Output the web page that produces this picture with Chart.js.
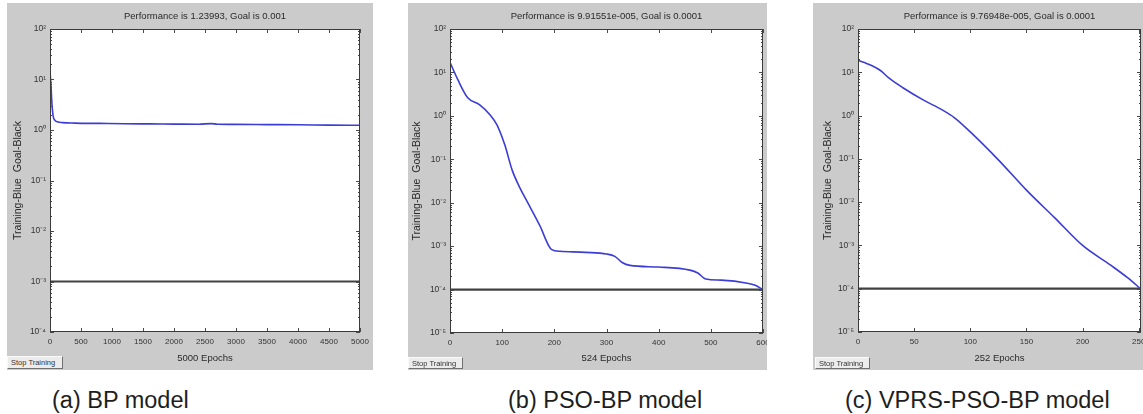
<!DOCTYPE html>
<html>
<head>
<meta charset="utf-8">
<script src="https://cdn.jsdelivr.net/npm/chart.js@4.4.0/dist/chart.umd.min.js"></script>
<style>
body { margin: 0; background: #fff; width: 1143px; height: 414px; position: relative; overflow: hidden; font-family: "Liberation Sans", Arial, sans-serif; }
.panel { position: absolute; background: #cbcbcb; }
.panel canvas { display: block; }
.btn { position: absolute; box-sizing: border-box; background: #ececec; border: 1px solid; border-color: #fafafa #707070 #707070 #fafafa; font-size: 7.5px; color: #333; line-height: 11px; padding-left: 3px; white-space: nowrap; }
.cap { position: absolute; top: 387px; font-size: 23.5px; color: #1e1e1e; white-space: nowrap; }
</style>
</head>
<body>
<div class="panel" style="left:7px;top:3px;width:366px;height:367px"><canvas id="chartA" width="366" height="367"></canvas></div>
<div class="panel" style="left:408px;top:3px;width:359px;height:367px"><canvas id="chartB" width="359" height="367"></canvas></div>
<div class="panel" style="left:813px;top:3px;width:330px;height:367px"><canvas id="chartC" width="330" height="367"></canvas></div>

<div class="btn" style="left:7px;top:356px;width:56px;height:13px">Stop Training</div>
<div class="btn" style="left:408px;top:357px;width:55px;height:12px">Stop Training</div>
<div class="btn" style="left:815px;top:357px;width:55px;height:12px">Stop Training</div>

<div class="cap" style="left:52px">(a) BP model</div>
<div class="cap" style="left:508px">(b) PSO-BP model</div>
<div class="cap" style="left:845px">(c) VPRS-PSO-BP model</div>

<script>
// (a) BP
const epochsA = [0, 15, 30, 50, 80, 120, 200, 400, 800, 1200, 1600, 2000, 2400, 2600, 2700, 3000, 3500, 4000, 4500, 5000];
const perfA = [14, 8, 3.5, 1.9, 1.55, 1.45, 1.4, 1.37, 1.35, 1.33, 1.32, 1.31, 1.3, 1.34, 1.3, 1.29, 1.28, 1.27, 1.25, 1.24];
const xTicksA = [0, 500, 1000, 1500, 2000, 2500, 3000, 3500, 4000, 4500, 5000];
const yExpA = [-4, -3, -2, -1, 0, 1, 2];

// (b) PSO-BP
const epochsB = [0, 15, 34, 57, 77, 90, 105, 119, 134, 149, 172, 195, 211, 260, 300, 316, 330, 345, 400, 460, 475, 490, 520, 570, 585, 600];
const perfB = [17, 6.8, 2.6, 1.8, 1.05, 0.62, 0.215, 0.057, 0.022, 0.01, 0.003, 8.3e-4, 7.6e-4, 7.2e-4, 6.6e-4, 5.8e-4, 4.2e-4, 3.6e-4, 3.3e-4, 2.8e-4, 2.4e-4, 1.75e-4, 1.65e-4, 1.4e-4, 1.25e-4, 9.92e-5];
const xTicksB = [0, 100, 200, 300, 400, 500, 600];
const yExpB = [-5, -4, -3, -2, -1, 0, 1, 2];

// (c) VPRS-PSO-BP
const epochsC = [0, 5, 13, 20, 28, 40, 58, 75, 86, 100, 125, 150, 175, 200, 225, 240, 252];
const perfC = [19, 17, 14, 11, 7.2, 4.4, 2.3, 1.35, 0.89, 0.42, 0.095, 0.019, 0.0044, 0.001, 3.5e-4, 1.8e-4, 9.77e-5];
const xTicksC = [0, 50, 100, 150, 200, 250];
const yExpC = [-5, -4, -3, -2, -1, 0, 1, 2];

const FONT = '"Liberation Sans", Arial, sans-serif';
const SUP = {'-': '\u207B', '0': '\u2070', '1': '\u00B9', '2': '\u00B2', '3': '\u00B3', '4': '\u2074', '5': '\u2075'};
function sup(n) { return String(n).split('').map(c => SUP[c]).join(''); }

// matlab style box: white axes, inward ticks, title over the axes
const frame = {
    id: 'frame',
    beforeDraw(chart) {
        const { ctx, chartArea: a } = chart;
        ctx.save();
        ctx.fillStyle = '#fff';
        ctx.fillRect(a.left, a.top, a.right - a.left, a.bottom - a.top);
        ctx.restore();
    },
    afterDraw(chart, args, opts) {
        const { ctx, chartArea: a, scales } = chart;
        ctx.save();
        ctx.strokeStyle = '#4a4a4a';
        ctx.lineWidth = 1;
        ctx.beginPath();
        scales.x.ticks.forEach(t => {
            const px = Math.round(scales.x.getPixelForValue(t.value)) + 0.5;
            ctx.moveTo(px, a.bottom); ctx.lineTo(px, a.bottom - 4);
            ctx.moveTo(px, a.top); ctx.lineTo(px, a.top + 4);
        });
        scales.y.ticks.forEach(t => {
            const py = Math.round(scales.y.getPixelForValue(t.value)) + 0.5;
            ctx.moveTo(a.left, py); ctx.lineTo(a.left + 4, py);
            ctx.moveTo(a.right, py); ctx.lineTo(a.right - 4, py);
            for (let k = 2; k < 10; k++) {
                const v = t.value * k;
                if (v >= scales.y.max) break;
                const pm = Math.round(scales.y.getPixelForValue(v)) + 0.5;
                ctx.moveTo(a.left, pm); ctx.lineTo(a.left + 2, pm);
                ctx.moveTo(a.right, pm); ctx.lineTo(a.right - 2, pm);
            }
        });
        ctx.stroke();
        ctx.strokeStyle = '#3a3a3a';
        ctx.strokeRect(a.left + 0.5, a.top + 0.5, a.right - a.left - 1, a.bottom - a.top - 1);

        ctx.fillStyle = '#2a2a2a';
        ctx.font = '9.5px ' + FONT;
        ctx.textAlign = 'center';
        ctx.textBaseline = 'middle';
        ctx.fillText(opts.title, (a.left + a.right) / 2, a.top - 13);
        ctx.restore();
    }
};

function makeChart(id, p) {
    return new Chart(document.getElementById(id), {
        type: 'line',
        data: {
            datasets: [
                {
                    data: p.epochs.map((e, i) => ({ x: e, y: p.perf[i] })),
                    borderColor: '#3c3cd6',
                    borderWidth: 1.6,
                    pointRadius: 0,
                    cubicInterpolationMode: 'monotone'
                },
                {
                    data: [{ x: 0, y: p.goal }, { x: p.xMax, y: p.goal }],
                    borderColor: '#424242',
                    borderWidth: 2.2,
                    pointRadius: 0
                }
            ]
        },
        options: {
            responsive: false,
            animation: false,
            layout: { padding: { top: 26, right: p.padRight, left: 0, bottom: 0 } },
            plugins: {
                legend: { display: false },
                tooltip: { enabled: false },
                frame: { title: p.title }
            },
            scales: {
                x: {
                    type: 'linear',
                    min: 0,
                    max: p.xMax,
                    grid: { display: false, drawTicks: false },
                    border: { display: false },
                    afterBuildTicks: s => { s.ticks = p.xTicks.map(v => ({ value: v })); },
                    ticks: {
                        font: { size: 8, family: FONT }, color: '#333', padding: 5, maxRotation: 0, autoSkip: false,
                        callback: v => String(v)
                    },
                    title: { display: true, text: p.xLabel, font: { size: 9.5, family: FONT }, color: '#2a2a2a', padding: { top: 0, bottom: 6 } },
                    afterFit: s => { s.height = p.xAxisH; s.paddingLeft = 0; s.paddingRight = 0; }
                },
                y: {
                    type: 'logarithmic',
                    min: Math.pow(10, p.yExp[0]),
                    max: Math.pow(10, p.yExp[p.yExp.length - 1]),
                    grid: { display: false, drawTicks: false },
                    border: { display: false },
                    afterBuildTicks: s => { s.ticks = p.yExp.map(n => ({ value: Math.pow(10, n) })); },
                    ticks: {
                        font: { size: 8.5, family: FONT }, color: '#333', padding: 4, autoSkip: false,
                        callback: v => '10' + sup(Math.round(Math.log10(v)))
                    },
                    title: { display: true, text: 'Training-Blue  Goal-Black', font: { size: 10.5, family: FONT }, color: '#2a2a2a', padding: { top: p.yTitlePad, bottom: 0 } },
                    afterFit: s => { s.width = p.yAxisW; s.paddingTop = 0; s.paddingBottom = 0; }
                }
            }
        },
        plugins: [frame]
    });
}

makeChart('chartA', {
    epochs: epochsA, perf: perfA, goal: 0.001, xMax: 5000, xTicks: xTicksA, yExp: yExpA,
    title: 'Performance is 1.23993, Goal is 0.001', xLabel: '5000 Epochs',
    yAxisW: 43, xAxisH: 38, padRight: 13, yTitlePad: 5
});
makeChart('chartB', {
    epochs: epochsB, perf: perfB, goal: 0.0001, xMax: 600, xTicks: xTicksB, yExp: yExpB,
    title: 'Performance is 9.91551e-005, Goal is 0.0001', xLabel: '524 Epochs',
    yAxisW: 42, xAxisH: 37, padRight: 4, yTitlePad: 3
});
makeChart('chartC', {
    epochs: epochsC, perf: perfC, goal: 0.0001, xMax: 252, xTicks: xTicksC, yExp: yExpC,
    title: 'Performance is 9.76948e-005, Goal is 0.0001', xLabel: '252 Epochs',
    yAxisW: 45, xAxisH: 38, padRight: 2, yTitlePad: 9
});
</script>
</body>
</html>
